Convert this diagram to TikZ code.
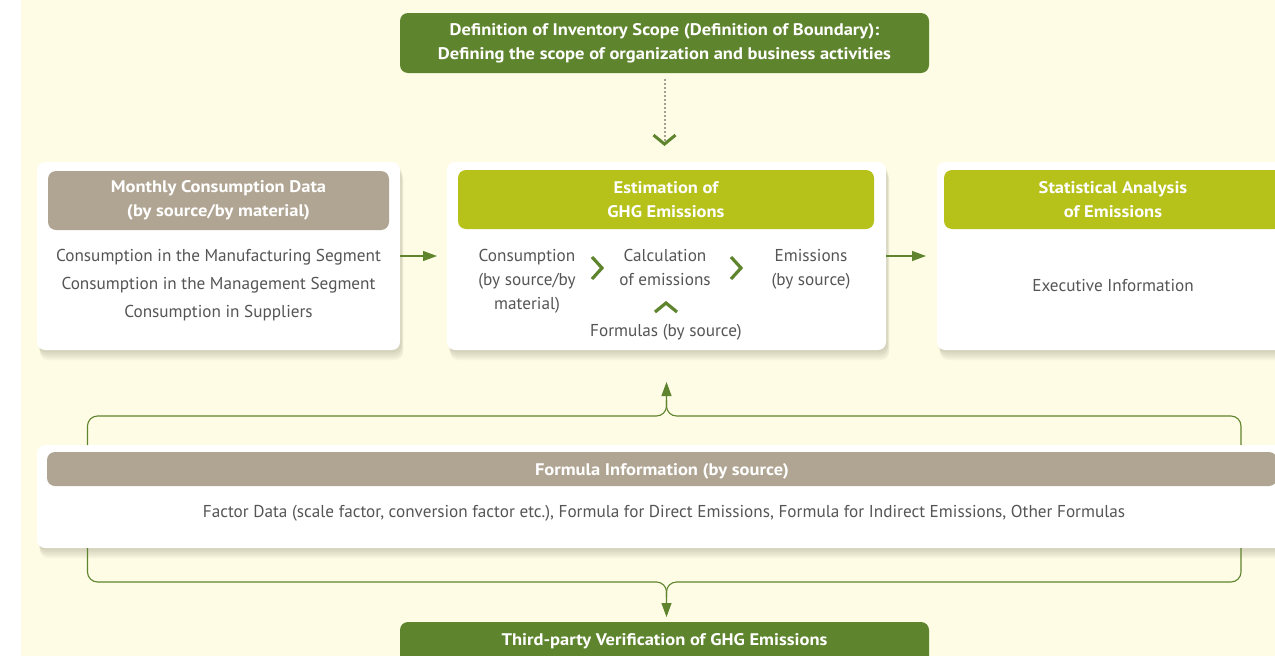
\documentclass[tikz,border=0pt]{standalone}
\usepackage{fontspec}
\setmainfont{PT Sans}[BoldFeatures={FakeStretch=1.1}]
\usetikzlibrary{calc,arrows.meta}

\definecolor{paper}{HTML}{FEFCE5}
\definecolor{leaf}{HTML}{5F842E}
\definecolor{lime}{HTML}{B6C11A}
\definecolor{taupe}{HTML}{B0A593}
\definecolor{ink}{HTML}{555555}
\definecolor{dotgray}{HTML}{A39E8F}
\definecolor{shade}{HTML}{6B6650}

\tikzset{
  softshade/.style 2 args={preaction={fill=shade, fill opacity=0.06,
      transform canvas={xshift=#1, yshift=-#2}}},
  panel/.style={fill=white, rounded corners=8pt, inner sep=0pt, outer sep=0pt,
    softshade={3pt}{10pt}, softshade={3pt}{8pt}, softshade={2pt}{6pt},
    softshade={2pt}{4pt}, softshade={1pt}{2pt}},
  headbox/.style={rounded corners=8pt, inner sep=0pt, outer sep=0pt, text=white,
    font=\bfseries\fontsize{16.8}{24}\selectfont, align=center},
  bodytext/.style={text=ink, inner sep=0pt, align=center, font=\fontsize{17.2}{28}\selectfont},
  bodytight/.style={bodytext, font=\fontsize{17.2}{24}\selectfont},
  conn/.style={draw=leaf, line width=1.1pt},
  tip/.style={-{Triangle[length=14pt,width=10pt]}},
  chev/.style={draw=leaf, line width=3.2pt},
}

\begin{document}
\begin{tikzpicture}[x=1pt,y=-1pt]
  \useasboundingbox (0,0) rectangle (1275,656);
  \clip (0,0) rectangle (1275,656);
  \fill[white] (0,0) rectangle (1275,656);
  \fill[paper] (21,0) rectangle (1275,656);

  % scope definition
  \node[headbox, fill=leaf, minimum width=529pt, minimum height=60pt] (scope) at (664.5,43)
    {Definition of Inventory Scope (Definition of Boundary):\\Defining the scope of organization and business activities};

  % three process panels
  \node[panel, minimum width=363pt, minimum height=188pt] (cons) at (218.5,256) {};
  \node[headbox, fill=taupe, minimum width=341pt, minimum height=59pt] (consH) at (218.5,200.5)
    {Monthly Consumption Data\\(by source/by material)};
  \node[bodytext] (consT) at (218.5,285)
    {Consumption in the Manufacturing Segment\\Consumption in the Management Segment\\Consumption in Suppliers};

  \node[panel, minimum width=439pt, minimum height=188pt] (mid) at (666.5,256) {};
  \node[headbox, fill=lime, minimum width=416pt, minimum height=59pt] (midH) at (666,199.5)
    {Estimation of\\GHG Emissions};
  \node[bodytight] (inC) at (527,281) {Consumption\\(by source/by\\material)};
  \node[bodytight] (calcE) at (665,267) {Calculation\\of emissions};
  \node[bodytight] (outE) at (811,269) {Emissions\\(by source)};
  \node[bodytext] (frm) at (666,332) {Formulas (by source)};
  \draw[chev] (592,257) -- (602,268) -- (592,279);
  \draw[chev] (731,257) -- (741,268) -- (731,279);
  \draw[chev] (655,312) -- (666,303) -- (677,312);

  \node[panel, minimum width=352pt, minimum height=188pt] (stat) at (1113,256) {};
  \node[headbox, fill=lime, minimum width=338pt, minimum height=59pt] (statH) at (1113,199.5)
    {Statistical Analysis\\of Emissions};
  \node[bodytext] (exec) at (1113,286) {Executive Information};

  % formula information
  \node[panel, minimum width=1250pt, minimum height=103pt] (fml) at (662,496.5) {};
  \node[headbox, fill=taupe, minimum width=1230pt, minimum height=34pt] (fmlH) at (662,469)
    {};
  \node[text=white, font=\bfseries\fontsize{16.8}{24}\selectfont, inner sep=0pt] (fmlHT) at (662,471.5)
    {Formula Information (by source)};
  \node[bodytext] (fmlT) at (664,513)
    {Factor Data (scale factor, conversion factor etc.), Formula for Direct Emissions, Formula for Indirect Emissions, Other Formulas};

  % verification
  \node[headbox, fill=leaf, minimum width=529pt, minimum height=60pt] (verify) at (664.5,652) {};
  \node[text=white, font=\bfseries\fontsize{16.8}{24}\selectfont, inner sep=0pt] (verifyT) at (664.5,641)
    {Third-party Verification of GHG Emissions};

  % connectors
  \draw[dotgray, line width=2pt, dash pattern=on 2pt off 2pt, shorten <=6pt, shorten >=16pt,
        -{Straight Barb[length=9pt,width=22pt,line width=3pt,color=leaf]}] (scope.south) -- (scope.south |- mid.north);
  \draw[conn, tip, shorten >=10pt] (cons.east) -- (mid.west);
  \draw[conn, tip, shorten >=11pt] (mid.east) -- (stat.west);

  \draw[conn, tip, rounded corners=10pt]
    ($(fml.north west)+(50.5,0)$) |- ($(mid.south)+(0,66)$) -- ($(mid.south)+(0,32)$);
  \draw[conn, rounded corners=10pt]
    ($(fml.north west)+(1204,0)$) |- ($(mid.south)+(0,66)$) -- ($(mid.south)+(0,50)$);
  \draw[conn, tip, rounded corners=10pt]
    ($(fml.south west)+(50.5,0)$) |- ($(mid.south |- verify.north)+(0,-40)$) -- ($(mid.south |- verify.north)+(0,-5)$);
  \draw[conn, rounded corners=10pt]
    ($(fml.south west)+(1204,0)$) |- ($(mid.south |- verify.north)+(0,-40)$) -- ($(mid.south |- verify.north)+(0,-25)$);
\end{tikzpicture}
\end{document}
